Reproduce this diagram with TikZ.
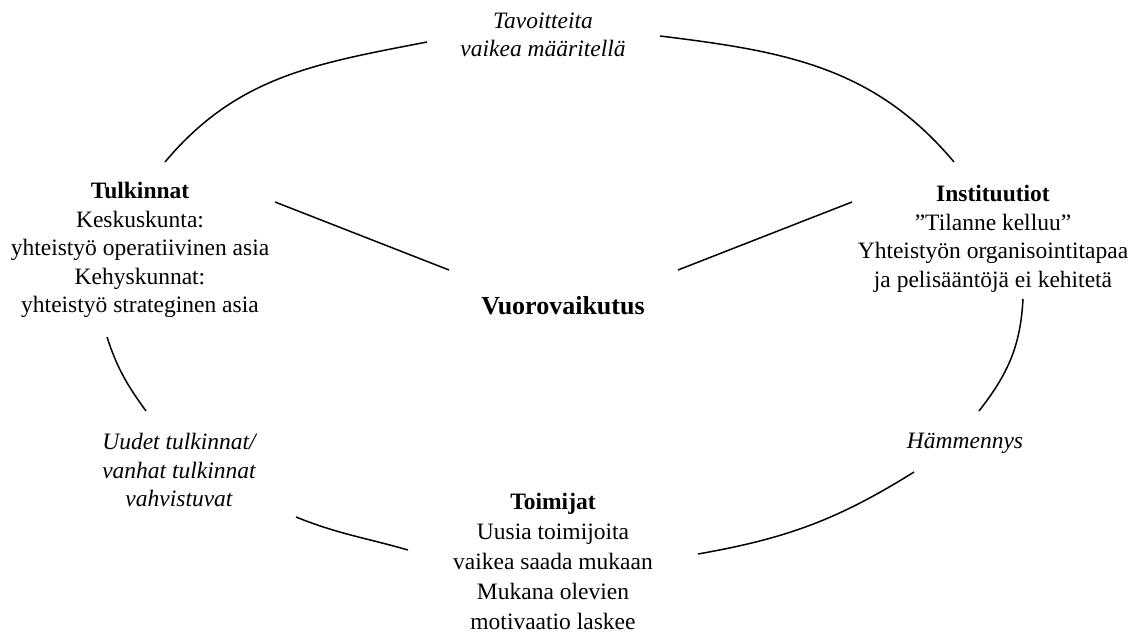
\documentclass[tikz,border=0pt]{standalone}
\usepackage{fontspec}
\setmainfont{Liberation Serif}
\usetikzlibrary{positioning}

\begin{document}
\begin{tikzpicture}[x=1pt, y=1pt, line width=1.5pt,
  main/.style = {align=center, font=\fontsize{23.5}{28.5}\selectfont},
  note/.style = {align=center, font=\fontsize{23.5}{28.5}\selectfont\itshape}]
\useasboundingbox (0,0) rectangle (1140,635);

\node[main, font=\fontsize{26}{30}\selectfont] (v) at (563,329) {\textbf{Vuorovaikutus}};
\node[main] (tu) at (140,385) {\textbf{Tulkinnat}\\Keskuskunta:\\yhteistyö operatiivinen asia\\Kehyskunnat:\\yhteistyö strateginen asia};
\node[main] (in) at (993,396) {\textbf{Instituutiot}\\”Tilanne kelluu”\\Yhteistyön organisointitapaa\\ja pelisääntöjä ei kehitetä};
\node[main, font=\fontsize{23.5}{30}\selectfont] (to) at (553,74) {\textbf{Toimijat}\\Uusia toimijoita\\vaikea saada mukaan\\Mukana olevien\\motivaatio laskee};
\node[note] (ta) at (543,600) {Tavoitteita\\vaikea määritellä};
\node[note] (uu) at (179,165) {Uudet tulkinnat/\\vanhat tulkinnat\\vahvistuvat};
\node[note] (ha) at (965,192) {Hämmennys};

\coordinate (a1) at (165,473);
\coordinate (a2) at (427,593);
\coordinate (b1) at (660,599);
\coordinate (b2) at (954,473);
\coordinate (c1) at (1023,336);
\coordinate (c2) at (979,224);
\coordinate (d1) at (914,163);
\coordinate (d2) at (698,81);
\coordinate (e1) at (408,85);
\coordinate (e2) at (296,118);
\coordinate (f1) at (146,224);
\coordinate (f2) at (107,298);
\coordinate (g1) at (275,433);
\coordinate (g2) at (449,365);
\coordinate (h1) at (852,433);
\coordinate (h2) at (678,365);

\draw (a1) to[out=50, in=-169] (a2);
\draw (b1) to[out=-7, in=130] (b2);
\draw (c1) to[out=-93, in=52] (c2);
\draw (d1) to[out=-148, in=10] (d2);
\draw (e1) to[out=164, in=-22] (e2);
\draw (f1) to[out=126, in=-72] (f2);
\draw (g1) -- (g2);
\draw (h1) -- (h2);
\end{tikzpicture}
\end{document}
